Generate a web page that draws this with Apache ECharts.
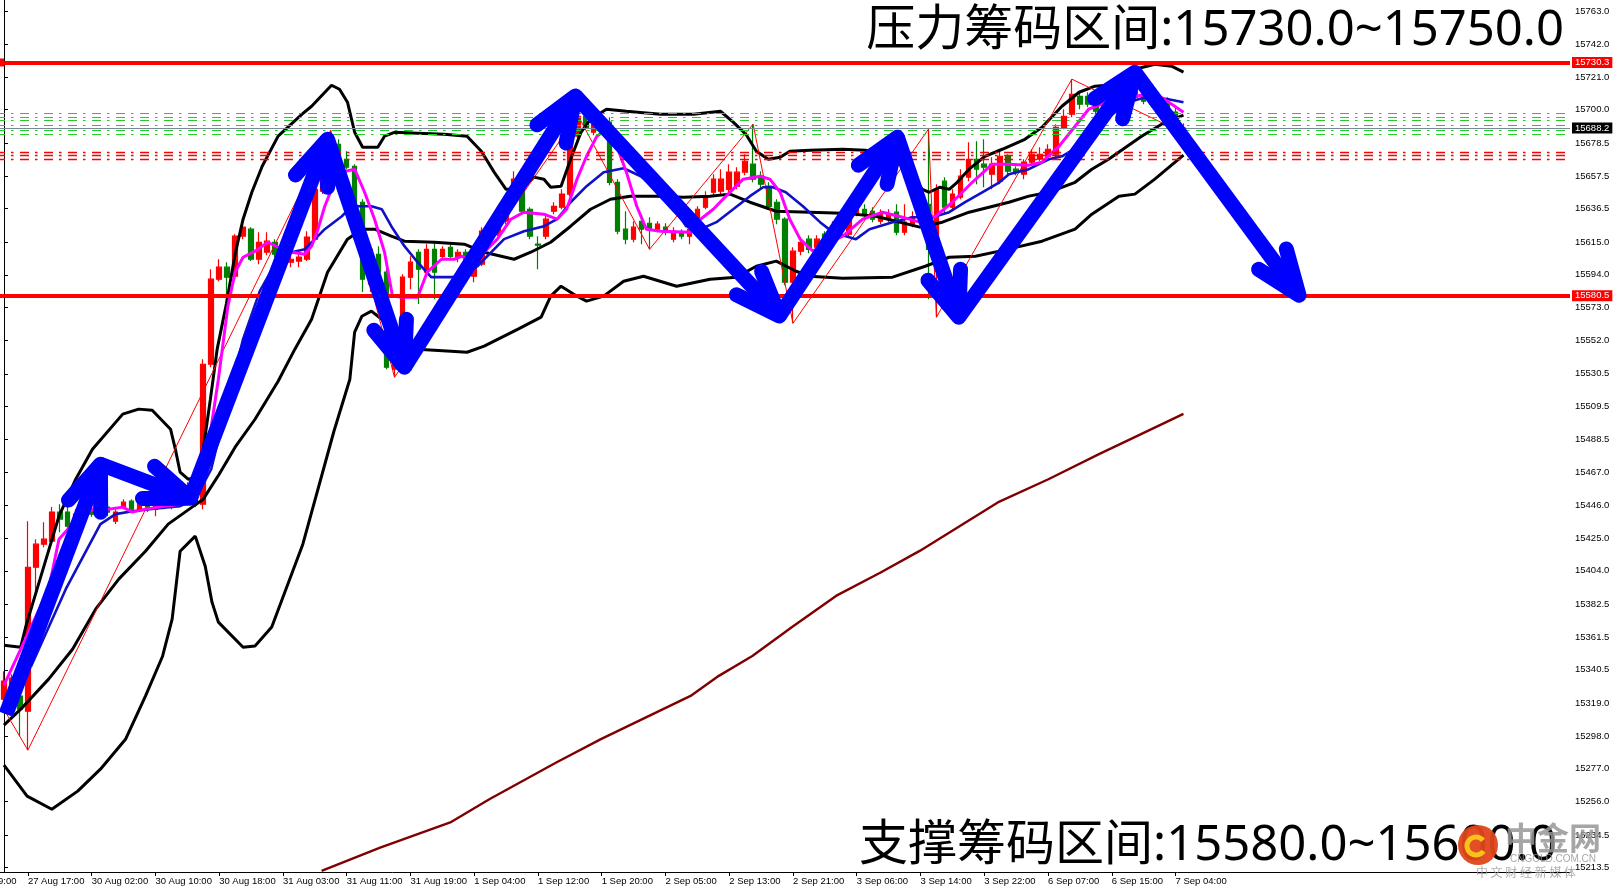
<!DOCTYPE html>
<html>
<head>
<meta charset="utf-8">
<script src="https://cdn.jsdelivr.net/npm/echarts@6/dist/echarts.min.js"></script>
<style>
html,body{margin:0;padding:0;background:#fff;}
#chart{width:1613px;height:890px;}
</style>
</head>
<body>
<div id="chart"></div>
<script>
// ---------- DATA ----------
const timeLabels = ['27 Aug 17:00','30 Aug 02:00','30 Aug 10:00','30 Aug 18:00','31 Aug 03:00','31 Aug 11:00','31 Aug 19:00','1 Sep 04:00','1 Sep 12:00','1 Sep 20:00','2 Sep 05:00','2 Sep 13:00','2 Sep 21:00','3 Sep 06:00','3 Sep 14:00','3 Sep 22:00','6 Sep 07:00','6 Sep 15:00','7 Sep 04:00'];
const firstLabelIndex = 3;
const labelStep = 8;
const slotCount = 197;

const yTicks = [15763.0,15742.0,15721.0,15700.0,15678.5,15657.5,15636.5,15615.0,15594.0,15573.0,15552.0,15530.5,15509.5,15488.5,15467.0,15446.0,15425.0,15404.0,15382.5,15361.5,15340.5,15319.0,15298.0,15277.0,15256.0,15234.5,15213.5];

// [open, close, low, high]
const candles = [
[15321.6,15333.2,15315.2,15339.6],[15326.1,15335.1,15323.6,15337.7],[15323.6,15315.2,15297.9,15334.5],[15313.9,15406.3,15288.9,15435.9],
[15406.3,15421.1,15389.0,15424.3],[15421.1,15424.3,15419.2,15435.2],[15423.0,15441.7,15421.1,15444.9],[15441.7,15437.2,15428.8,15446.8],
[15441.7,15432.7,15430.7,15444.9],[15434.0,15440.4,15432.7,15443.6],[15438.5,15443.6,15437.2,15446.8],[15443.6,15440.4,15438.5,15446.8],
[15438.5,15444.9,15437.2,15448.1],[15444.9,15441.7,15439.1,15446.8],[15435.9,15441.7,15434.0,15443.6],[15444.9,15448.1,15443.6,15450.0],
[15448.7,15443.6,15441.7,15450.0],[15443.6,15446.8,15441.7,15448.7],[15446.8,15444.9,15441.7,15448.7],[15443.6,15446.8,15439.1,15448.1],
[15444.9,15448.1,15443.6,15450.0],[15448.1,15444.9,15443.6,15453.2],[15453.2,15450.0,15448.1,15462.8],[15450.0,15456.4,15448.7,15460.9],
[15456.4,15446.8,15444.9,15460.9],[15446.8,15536.6,15443.6,15539.8],[15536.6,15591.2,15534.7,15597.6],[15591.2,15598.9,15589.9,15604.0],
[15598.9,15592.5,15573.9,15602.1],[15593.1,15618.8,15591.2,15620.1],[15618.8,15624.6,15616.9,15626.5],[15623.3,15604.0,15602.8,15624.6],
[15604.0,15614.9,15600.8,15621.4],[15608.5,15615.6,15606.6,15621.4],[15614.9,15607.2,15605.3,15616.9],[15607.2,15610.4,15605.9,15613.0],
[15602.1,15604.0,15598.9,15606.6],[15602.8,15605.3,15598.9,15607.2],[15604.0,15618.2,15602.8,15622.0],[15616.9,15648.9,15615.6,15652.2],
[15647.7,15666.3,15645.8,15671.4],[15666.9,15683.0,15665.0,15686.8],[15677.8,15661.8,15660.5,15681.0],[15668.2,15663.1,15661.8,15673.3],
[15663.7,15640.6,15639.3,15665.0],[15640.6,15591.2,15582.9,15642.5],[15588.0,15610.4,15582.9,15613.7],[15607.2,15595.7,15582.9,15612.4],
[15595.7,15534.7,15533.4,15597.6],[15533.4,15539.8,15528.3,15541.8],[15538.6,15592.5,15536.6,15594.4],[15592.5,15602.1,15584.8,15605.9],
[15608.5,15597.6,15575.2,15610.4],[15595.7,15610.4,15594.4,15613.7],[15610.4,15595.7,15578.4,15615.6],[15605.9,15610.4,15604.0,15612.4],
[15611.7,15605.9,15604.0,15613.7],[15605.3,15608.5,15602.1,15610.4],[15608.5,15604.0,15601.5,15610.4],[15593.1,15599.5,15589.3,15602.8],
[15600.8,15622.0,15599.5,15624.6],[15616.9,15626.5,15614.9,15629.7],[15620.1,15629.7,15618.8,15634.8],[15628.4,15642.5,15626.5,15644.5],
[15642.5,15655.4,15640.6,15660.5],[15648.9,15634.8,15632.9,15652.2],[15636.1,15618.8,15616.9,15637.4],[15613.7,15613.0,15597.6,15618.8],
[15618.8,15629.7,15616.9,15632.9],[15634.8,15638.0,15632.9,15640.6],[15637.4,15645.8,15636.1,15648.9],[15645.8,15683.0,15644.5,15686.2],
[15683.0,15695.8,15681.0,15696.5],[15695.8,15688.7,15687.5,15698.4],[15685.5,15695.2,15683.6,15696.5],[15695.2,15690.7,15688.7,15696.5],
[15692.0,15653.4,15651.5,15695.2],[15653.4,15622.0,15620.1,15655.4],[15623.3,15616.9,15613.7,15634.8],[15616.9,15624.6,15614.9,15628.4],
[15628.4,15623.3,15613.7,15632.9],[15627.1,15623.3,15610.4,15631.0],[15623.3,15626.5,15621.4,15628.4],[15624.6,15621.4,15619.4,15627.1],
[15616.9,15622.0,15614.9,15624.6],[15621.4,15618.8,15616.9,15623.3],[15618.8,15623.3,15613.7,15625.9],[15627.8,15636.1,15624.6,15638.0],
[15637.4,15643.8,15636.1,15647.7],[15647.0,15655.4,15644.5,15658.6],[15647.7,15655.4,15645.8,15661.8],[15648.9,15659.9,15647.0,15665.0],
[15650.9,15659.9,15648.9,15663.1],[15659.9,15666.9,15657.9,15671.4],[15665.0,15655.4,15653.4,15690.7],[15657.3,15652.2,15648.9,15660.5],
[15650.9,15638.0,15636.1,15653.4],[15640.6,15629.7,15626.5,15642.5],[15629.7,15589.3,15587.3,15631.0],[15589.3,15609.2,15562.9,15611.7],
[15609.2,15614.9,15606.6,15618.2],[15616.9,15610.4,15607.9,15619.4],[15611.7,15616.9,15609.2,15619.4],[15620.1,15614.9,15612.4,15622.0],
[15618.8,15625.2,15616.9,15628.4],[15622.0,15628.4,15620.1,15631.0],[15620.1,15639.3,15618.8,15642.5],[15632.9,15636.1,15631.6,15638.0],
[15636.1,15632.9,15629.7,15639.3],[15634.8,15629.7,15627.8,15637.4],[15628.4,15632.9,15626.5,15636.1],[15629.7,15632.9,15627.8,15636.1],
[15634.2,15621.4,15619.4,15639.3],[15621.4,15627.8,15619.4,15639.3],[15626.5,15631.0,15624.6,15634.8],[15628.4,15639.3,15626.5,15643.8],
[15639.3,15610.4,15578.4,15687.5],[15613.7,15648.9,15566.8,15652.2],[15654.1,15637.4,15632.9,15656.7],[15637.4,15645.8,15634.8,15648.9],
[15643.8,15657.3,15642.5,15661.8],[15656.7,15668.2,15654.1,15679.1],[15668.2,15661.8,15652.2,15679.8],[15665.0,15663.1,15650.2,15681.0],
[15658.6,15665.0,15648.9,15669.5],[15654.1,15670.1,15652.2,15674.6],[15670.1,15660.5,15658.6,15671.4],[15661.8,15659.9,15657.9,15663.7],
[15658.6,15666.3,15655.4,15668.2],[15666.3,15671.4,15664.4,15674.6],[15668.2,15671.4,15666.9,15675.9],[15670.1,15674.6,15668.2,15677.8],
[15671.4,15688.7,15669.5,15690.7],[15688.7,15695.8,15687.5,15700.3],[15697.1,15709.9,15695.2,15719.6],[15708.6,15703.5,15700.3,15711.9],
[15708.6,15703.5,15701.6,15711.2],[15702.2,15699.0,15697.1,15706.7],[15700.3,15704.8,15697.7,15707.9],[15703.5,15707.9,15701.6,15711.2],
[15707.9,15704.8,15702.2,15709.9],[15704.8,15709.9,15703.5,15711.9],[15707.9,15711.9,15705.4,15714.4],[15709.9,15705.4,15703.5,15711.9],
[15706.7,15703.5,15701.6,15708.6],[15700.3,15705.4,15698.4,15707.9],[15704.8,15699.0,15696.5,15707.9],[15698.4,15692.0,15688.7,15701.6],
[15684.9,15688.2,15683.6,15691.3]
];

// indicator lines: [bar index, price]
const bbUpper = [[0,15356.3],[2.1,15355.0],[2.75,15368.5],[6.9,15439.1],[9,15462.8],[11.1,15482.1],[14.9,15504.6],[16.9,15507.8],[18.6,15507.1],[20.9,15494.9],[21.5,15482.1],[22.1,15467.3],[23.1,15462.8],[24.4,15464.1],[25,15482.1],[25.9,15514.2],[26.75,15546.3],[27.9,15575.2],[29,15607.2],[30,15629.7],[31.1,15647.0],[32.4,15663.7],[34.4,15683.0],[37.4,15697.1],[38.6,15702.2],[41.1,15715.7],[42.1,15713.1],[43.1,15704.8],[44,15685.5],[45,15675.9],[46.9,15675.9],[47.75,15683.0],[49,15685.5],[51.9,15684.9],[55.25,15684.2],[58.1,15683.0],[59.9,15673.3],[61.5,15659.9],[63,15648.9],[64.9,15648.9],[66.5,15656.7],[67.75,15655.4],[68.6,15650.2],[69.9,15650.9],[71.1,15668.2],[72.4,15685.5],[73.6,15693.9],[75.6,15700.3],[78.1,15699.0],[82.4,15697.1],[86.5,15697.1],[89.9,15699.0],[91.5,15692.0],[93.1,15684.2],[94.4,15673.3],[95.9,15668.2],[97.4,15669.5],[98.6,15673.3],[101.1,15674.0],[105.25,15674.6],[108.1,15674.0],[111.1,15670.1],[113.6,15659.9],[115.25,15648.9],[116.1,15647.0],[117.4,15650.2],[118.6,15648.9],[119.6,15653.4],[121.1,15661.8],[123.1,15670.1],[125.25,15674.6],[128.1,15681.0],[130.25,15688.7],[132.75,15702.2],[134.9,15711.2],[136.9,15715.1],[139.9,15716.3],[141.9,15726.0],[144.4,15729.2],[146.5,15727.9],[148,15724.1]];

const bbMiddle = [[0,15305.0],[2.1,15315.2],[5.6,15334.5],[8.6,15353.7],[11.5,15379.4],[14.4,15398.7],[17.75,15416.6],[20.6,15434.0],[23.6,15444.9],[25,15450.0],[27,15466.0],[29,15483.4],[31.5,15501.3],[34.4,15525.7],[36.5,15546.3],[38.6,15565.5],[40.6,15595.7],[43.1,15616.9],[44.9,15623.3],[46.5,15623.3],[48.6,15618.8],[50.25,15615.6],[54,15614.9],[57.75,15613.7],[60.25,15608.5],[64,15604.0],[66.1,15608.5],[68.6,15614.9],[71.1,15625.2],[73.6,15636.1],[76.1,15642.5],[78.6,15644.5],[81.9,15644.5],[85.25,15643.8],[88.6,15644.5],[91.1,15645.8],[93.6,15640.6],[96.9,15634.8],[101.1,15634.2],[105.25,15633.6],[109.4,15631.6],[114.9,15624.6],[117.75,15627.8],[121.1,15634.2],[123.6,15637.4],[126.1,15640.6],[128.6,15644.5],[131.1,15647.0],[134.4,15653.4],[136.5,15661.8],[138.6,15668.2],[142.75,15683.0],[145.25,15690.7],[148,15696.5]];

const bbLower = [[0,15279.3],[2.9,15259.4],[6,15251.0],[9.25,15262.6],[12.1,15276.7],[15.25,15295.9],[17.75,15323.6],[19.9,15349.2],[21.1,15373.0],[22.1,15416.6],[24,15426.3],[25.25,15407.0],[26.1,15383.9],[26.9,15371.1],[30,15355.0],[31.5,15355.7],[33.6,15367.9],[37.5,15421.1],[41.4,15493.6],[43.4,15527.0],[44,15557.2],[44.9,15567.4],[46.1,15570.7],[47.4,15565.5],[48.6,15557.2],[50.25,15548.2],[51.9,15546.3],[56.1,15545.0],[58.1,15544.3],[60.25,15548.2],[64.5,15559.1],[67.4,15566.8],[68.6,15580.3],[69.9,15586.7],[71.9,15580.3],[73.1,15577.1],[75.25,15580.3],[77.75,15589.9],[80.25,15593.1],[84.4,15586.7],[88.6,15591.2],[91.9,15592.5],[94.4,15599.5],[96.9,15602.8],[99.4,15596.3],[101.1,15593.1],[105.25,15591.8],[111.5,15592.5],[115.6,15599.5],[118.6,15605.3],[121.9,15605.9],[124.9,15609.2],[130.25,15615.6],[134.4,15623.3],[136.5,15632.9],[139.9,15644.5],[141.9,15645.8],[144.4,15655.4],[148,15670.8]];

const maFast = [[0,15330.6],[5.6,15392.2],[6.9,15424.3],[8.6,15434.0],[11.1,15443.6],[13.1,15443.6],[14.9,15444.9],[16.1,15441.7],[17.75,15443.6],[19.4,15444.9],[22.1,15446.8],[25,15466.7],[26,15496.2],[26.9,15527.0],[28.1,15573.9],[29,15595.7],[30,15605.3],[31.5,15609.2],[33.1,15614.9],[34.4,15611.7],[36.1,15608.5],[37.75,15607.2],[38.6,15612.4],[39.4,15623.3],[40.25,15638.0],[41.1,15648.9],[42.4,15659.9],[44,15661.8],[45.25,15647.0],[46.5,15629.7],[47.75,15608.5],[48.75,15580.3],[50.25,15579.6],[51.9,15579.6],[53.1,15595.7],[54.9,15604.0],[56.5,15604.0],[57.4,15605.9],[58.6,15604.0],[60.25,15608.5],[61.9,15616.9],[63.6,15629.7],[65.25,15634.2],[67.75,15632.9],[69.4,15629.7],[70.6,15636.1],[71.9,15655.4],[73.1,15670.1],[74.4,15683.0],[75.6,15687.5],[76.9,15676.6],[78.1,15659.9],[79.4,15638.0],[80.6,15623.3],[82.4,15622.0],[86.1,15621.4],[87.4,15629.7],[89,15636.1],[90.6,15644.5],[92.75,15655.4],[94.9,15657.3],[96.1,15655.4],[97.4,15647.0],[98.6,15629.7],[99.9,15616.9],[101.5,15609.2],[103.6,15614.9],[105.25,15618.8],[107.75,15629.7],[110.25,15634.2],[112.75,15631.0],[114.9,15627.8],[116.9,15631.6],[119,15640.6],[120.25,15647.0],[121.5,15653.4],[124,15665.0],[126.1,15665.0],[128.6,15664.4],[130.25,15666.3],[132.4,15676.6],[134.4,15689.4],[136.1,15700.3],[138.6,15705.4],[141.9,15708.6],[143.6,15709.9],[145.25,15707.9],[146.9,15702.2],[148,15698.4]];

const maSlow = [[3.4,15342.8],[7.75,15392.2],[12.1,15434.0],[14,15440.4],[16.1,15442.3],[19.4,15444.2],[22.1,15445.5],[24,15450.0],[26,15469.2],[28,15511.0],[30,15552.7],[32.1,15583.5],[34,15600.8],[36.1,15608.5],[37.75,15610.4],[40.25,15623.3],[42.4,15631.6],[43.6,15638.0],[46.1,15638.0],[47.4,15636.1],[48.6,15625.2],[50.25,15612.4],[51.9,15602.1],[53.6,15592.5],[56.1,15592.5],[57.75,15593.1],[59.4,15599.5],[62.75,15616.9],[65.25,15622.0],[67.75,15625.2],[69.4,15629.7],[71.1,15640.6],[73.1,15650.9],[75.25,15659.9],[77.75,15662.4],[79.9,15657.3],[82.4,15647.0],[84.4,15634.2],[85.6,15625.2],[87.4,15623.3],[89.4,15627.8],[91.5,15636.1],[93.6,15644.5],[95.25,15650.2],[96.5,15650.2],[98.1,15647.0],[100.25,15638.0],[102.4,15627.8],[104,15621.4],[106.9,15616.9],[108.6,15623.3],[111.5,15627.8],[114,15631.0],[116.5,15631.0],[118.6,15634.2],[120.6,15640.6],[122.75,15647.0],[124.9,15653.4],[126.1,15658.6],[128.6,15661.8],[131.1,15668.2],[132.75,15670.1],[134.9,15676.6],[136.5,15685.5],[138.6,15695.2],[141.1,15704.8],[143.6,15708.6],[146.1,15706.7],[148,15704.8]];

const maLong = [[39.85,15211.4],[47.2,15226.4],[56.0,15242.5],[60.9,15257.4],[69.3,15281.0],[74.9,15296.0],[86.15,15323.7],[89.7,15336.6],[93.9,15349.4],[98.8,15367.6],[104.4,15387.9],[110,15402.9],[114.9,15416.8],[124.7,15447.9],[131.05,15462.8],[137.4,15478.9],[140.9,15487.4],[148,15504.8]];

const zigzag = [[0,15315.0],[3,15288.9],[41,15686.8],[49,15528.3],[72,15696.5],[81,15610.4],[94,15690.7],[99,15562.9],[116,15687.5],[117,15566.8],[134,15719.6],[148,15684.9]];

const arrowPath = [[0.25,15312.0],[12.1,15472.4],[23.4,15450.6],[40.6,15681.0],[50.25,15534.7],[71.7,15708.8],[97.3,15567.6],[112.1,15682.3],[119.8,15566.8],[141.9,15724.0],[162.5,15580.9]];

const resistanceLevel = 15730.3;
const supportLevel = 15580.5;
const bidPrice = 15688.2;
const greenLevels = [15697.4,15695.2,15692.9,15690.0,15686.8,15684.3];
const redDashLevels = [15672.4,15670.5,15668.5];

const topNote = '压力筹码区间:15730.0~15750.0';
const bottomNote = '支撑筹码区间:15580.0~15600.0';

// ---------- CHART ----------
const categories = [];
for (let i = 0; i < slotCount; i++) categories.push(String(i));
const isLabelIdx = (idx) => idx >= firstLabelIndex && (idx - firstLabelIndex) % labelStep === 0 && (idx - firstLabelIndex) / labelStep < timeLabels.length;

const arrowSegments = arrowPath.slice(1).map((p, k) => [arrowPath[k][0], arrowPath[k][1], p[0], p[1]]);

function renderArrow(params, api) {
  const a = api.coord([api.value(0), api.value(1)]);
  const b = api.coord([api.value(2), api.value(3)]);
  const dx = b[0] - a[0], dy = b[1] - a[1];
  const len = Math.hypot(dx, dy);
  const ux = dx / len, uy = dy / len;
  const ang = 21 * Math.PI / 180, L = 48;
  const c = Math.cos(ang), s = Math.sin(ang);
  const h1 = [b[0] - L * (ux * c - uy * s), b[1] - L * (uy * c + ux * s)];
  const h2 = [b[0] - L * (ux * c + uy * s), b[1] - L * (uy * c - ux * s)];
  const st = { stroke: '#0000ff', lineWidth: 15, lineCap: 'round', lineJoin: 'round', fill: null };
  return {
    type: 'group',
    children: [
      { type: 'line', shape: { x1: a[0], y1: a[1], x2: b[0], y2: b[1] }, style: Object.assign({}, st, {lineCap:'butt'}) },
      { type: 'polyline', shape: { points: [h1, b, h2] }, style: st }
    ]
  };
}

const lbl = (txt, bg) => ({
  show: true, position: 'end', distance: 2, formatter: txt,
  backgroundColor: bg, color: '#fff', padding: [1, 3, 0, 3],
  fontSize: 9.5, fontFamily: 'Liberation Sans, Arial, sans-serif'
});

const markData = [];
greenLevels.forEach(v => markData.push({ yAxis: v, lineStyle: { color: '#22cc22', width: 1, type: [9, 6, 2.5, 6.5], dashOffset: 4 }, label: { show: false } }));
redDashLevels.forEach(v => markData.push({ yAxis: v, lineStyle: { color: '#ff0000', width: 1.4, type: [9, 6, 2.5, 6.5], dashOffset: 4 }, label: { show: false } }));
markData.push({ yAxis: bidPrice, lineStyle: { color: '#778899', width: 1, type: 'solid' }, label: lbl('15688.2', '#000') });
markData.push({ yAxis: resistanceLevel, symbol: ['none', 'rect'], symbolSize: 8, lineStyle: { color: '#ff0000', width: 4, type: 'solid' }, label: lbl('15730.3', '#ff0000') });
markData.push({ yAxis: supportLevel, lineStyle: { color: '#ff0000', width: 4, type: 'solid' }, label: lbl('15580.5', '#ff0000') });

const lineSeries = (data, color, width, z) => ({
  type: 'line', xAxisIndex: 1, yAxisIndex: 0, data: data, showSymbol: false, symbol: 'none',
  lineStyle: { color: color, width: width }, z: z, silent: true
});

const chart = echarts.init(document.getElementById('chart'), null, { renderer: 'canvas' });
chart.setOption({
  animation: false,
  backgroundColor: '#ffffff',
  grid: { left: -6, right: 43, top: 0, bottom: 18, containLabel: false },
  xAxis: [
    {
      type: 'category', data: categories, boundaryGap: true, position: 'bottom',
      axisLine: { show: true, lineStyle: { color: '#000', width: 1 } },
      axisTick: { show: true, alignWithLabel: true, interval: (i) => isLabelIdx(i), length: 4, lineStyle: { color: '#000' } },
      axisLabel: {
        show: true, interval: (i) => isLabelIdx(i), align: 'left', margin: 4, hideOverlap: false,
        formatter: (v, idx) => { const k = (Number(v) - firstLabelIndex) / labelStep; return timeLabels[k] || ''; },
        color: '#000', fontSize: 9.5, fontFamily: 'Liberation Sans, Arial, sans-serif'
      },
      splitLine: { show: false }
    },
    { type: 'value', min: -0.5, max: slotCount - 0.5, show: false }
  ],
  yAxis: [{
    type: 'value', position: 'right', min: 15210.7, max: 15770.4, scale: true,
    axisLine: { show: true, lineStyle: { color: '#000', width: 1 } },
    axisTick: { show: true, customValues: yTicks, length: 4, lineStyle: { color: '#000' } },
    axisLabel: {
      show: true, customValues: yTicks, margin: 5, formatter: (v) => Number(v).toFixed(1),
      color: '#000', fontSize: 9.5, fontFamily: 'Liberation Sans, Arial, sans-serif'
    },
    splitLine: { show: false }
  }],
  series: [
    {
      type: 'candlestick', xAxisIndex: 0, yAxisIndex: 0, data: candles, barWidth: 5, z: 2,
      itemStyle: { color: '#ff0000', color0: '#008000', borderColor: '#ff0000', borderColor0: '#008000', borderWidth: 1.2 },
      markLine: { silent: true, symbol: 'none', animation: false, data: markData }
    },
    lineSeries(maLong, '#800000', 2.4, 3),
    lineSeries(bbUpper, '#000000', 3, 3),
    lineSeries(bbMiddle, '#000000', 3, 3),
    lineSeries(bbLower, '#000000', 3, 3),
    lineSeries(zigzag, '#ff0000', 1, 3),
    lineSeries(maSlow, '#1010c8', 2.6, 4),
    lineSeries(maFast, '#ff00ff', 3, 4),
    {
      type: 'custom', xAxisIndex: 1, yAxisIndex: 0, data: arrowSegments, renderItem: renderArrow,
      encode: { x: [0, 2], y: [1, 3] }, z: 6, clip: false, silent: true
    }
  ],
  graphic: [
    { type: 'text', z: 100, x: -40, y: 881, style: { text: '27 Aug 09:00', fill: '#000', font: '9.5px "Liberation Sans", Arial', textAlign: 'left', align: 'left', textVerticalAlign: 'middle', verticalAlign: 'middle' } },
    { type: 'text', z: 100, x: 1564, y: 31, style: { text: topNote, fill: '#000', font: '49px "Noto Sans", "Noto Sans CJK SC"', textAlign: 'right', align: 'right', textVerticalAlign: 'middle', verticalAlign: 'middle' } },
    { type: 'text', z: 100, x: 859, y: 846, style: { text: bottomNote, fill: '#000', font: '49px "Noto Sans", "Noto Sans CJK SC"', textAlign: 'left', align: 'left', textVerticalAlign: 'middle', verticalAlign: 'middle' } },
    { type: 'circle', z: 110, shape: { cx: 1478, cy: 845, r: 20 }, style: { fill: '#e0461a', opacity: 0.95 } },
    { type: 'arc', z: 111, shape: { cx: 1476, cy: 846, r: 9, startAngle: 0.6, endAngle: 5.6 }, style: { stroke: '#f7c21c', lineWidth: 5, fill: null } },
    { type: 'text', z: 110, x: 1553, y: 838, style: { text: '中金网', fill: 'rgba(150,150,150,0.85)', font: 'bold 32px "Noto Sans CJK SC"', textAlign: 'center', align: 'center', textVerticalAlign: 'middle', verticalAlign: 'middle' } },
    { type: 'text', z: 110, x: 1553, y: 859, style: { text: 'CNGOLD.COM.CN', fill: 'rgba(150,150,150,0.85)', font: '10px "Liberation Sans", Arial', textAlign: 'center', align: 'center', textVerticalAlign: 'middle', verticalAlign: 'middle' } },
    { type: 'text', z: 110, x: 1526, y: 872, style: { text: '中 文 财 经 新 媒 体', fill: 'rgba(160,160,160,0.85)', font: '12px "Noto Sans CJK SC"', textAlign: 'center', align: 'center', textVerticalAlign: 'middle', verticalAlign: 'middle' } }
  ]
});
</script>
</body>
</html>
